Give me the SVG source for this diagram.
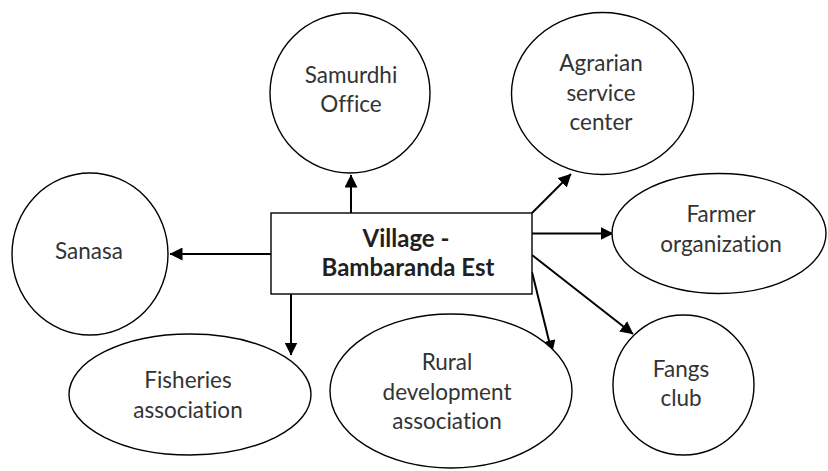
<svg xmlns="http://www.w3.org/2000/svg" width="828" height="471" viewBox="0 0 828 471">
<defs>
<style>
.node ellipse{fill:#fff;stroke:#000;stroke-width:1.4}
.node rect{fill:#fff;stroke:#000;stroke-width:1.4}
.lbl{font-family:Lato,"Open Sans","Liberation Sans",sans-serif;font-size:22.5px;fill:#333;text-anchor:middle;font-variant-ligatures:none}
.bold{font-weight:bold;font-size:24px;fill:#231f20}
#connectors line{stroke:#000;stroke-width:2;fill:none;marker-end:url(#ah)}
</style>
<marker id="ah" viewBox="0 0 13 13" refX="12.5" refY="6.5" markerWidth="13" markerHeight="13" markerUnits="userSpaceOnUse" orient="auto">
<path d="M0,0 L13,6.5 L0,13 z" fill="#000"/>
</marker>
</defs>
<rect width="828" height="471" fill="#fff"/>
<g id="connectors">
<line x1="351" y1="213" x2="351" y2="175"/>
<line x1="532" y1="213" x2="571" y2="174"/>
<line x1="532" y1="233.5" x2="613" y2="233.5"/>
<line x1="271" y1="254" x2="170" y2="254"/>
<line x1="291" y1="294" x2="291" y2="355"/>
<line x1="532" y1="272" x2="552" y2="353"/>
<line x1="532" y1="255" x2="633" y2="334"/>
</g>
<g id="samurdhi" class="node">
<ellipse cx="350" cy="93" rx="80" ry="80"/>
<text class="lbl" x="351" y="83">Samurdhi</text>
<text class="lbl" x="351" y="112">Office</text>
</g>
<g id="agrarian" class="node">
<ellipse cx="602.5" cy="93.5" rx="91" ry="81"/>
<text class="lbl" x="601" y="71">Agrarian</text>
<text class="lbl" x="601" y="101">service</text>
<text class="lbl" x="601" y="130">center</text>
</g>
<g id="farmer" class="node">
<ellipse cx="719" cy="233.5" rx="107" ry="60"/>
<text class="lbl" x="721" y="222">Farmer</text>
<text class="lbl" x="721" y="252">organization</text>
</g>
<g id="sanasa" class="node">
<ellipse cx="90" cy="254" rx="78" ry="81"/>
<text class="lbl" x="89" y="259">Sanasa</text>
</g>
<g id="fisheries" class="node">
<ellipse cx="190" cy="394.5" rx="121" ry="60.5"/>
<text class="lbl" x="188" y="388">Fisheries</text>
<text class="lbl" x="188" y="418">association</text>
</g>
<g id="rural" class="node">
<ellipse cx="451" cy="391" rx="121" ry="77"/>
<text class="lbl" x="447" y="370">Rural</text>
<text class="lbl" x="447" y="400">development</text>
<text class="lbl" x="447" y="429">association</text>
</g>
<g id="fangs" class="node">
<ellipse cx="683.5" cy="385" rx="70.5" ry="70"/>
<text class="lbl" x="681" y="377">Fangs</text>
<text class="lbl" x="681" y="406">club</text>
</g>
<g id="village" class="node">
<rect x="271" y="213" width="261" height="81"/>
<text class="lbl bold" x="406" y="247">Village -</text>
<text class="lbl bold" x="408" y="276">Bambaranda Est</text>
</g>
</svg>
